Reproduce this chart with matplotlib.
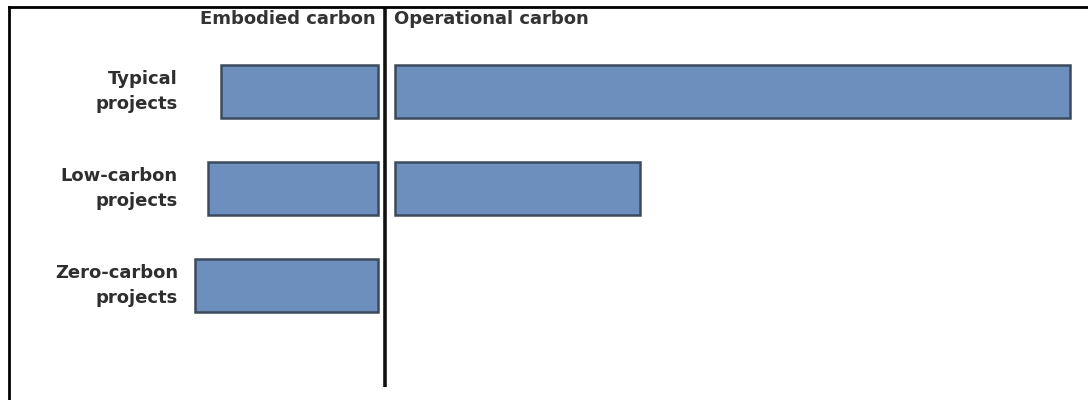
import matplotlib.pyplot as plt
from matplotlib.lines import Line2D

plt.rcParams['font.family'] = ['DejaVu Sans']

# 数据
categories = ['Typical\nprojects', 'Low-carbon\nprojects', 'Zero-carbon\nprojects']
embodied = [157, 170, 183]
operational = [675, 245, 0]

fig = plt.figure(figsize=(10.88, 4.0), dpi=100)
ax = fig.add_axes([0, 0, 1, 1])
ax.set_xlim(0, 1088)
# y轴：类别索引，0在上
ax.set_ylim(3.18, -0.943)
ax.axis('off')

face = '#6d8fbd'
edge = '#3b4b5c'
ypos = list(range(len(categories)))

# 左侧 embodied 条形（向左延伸）
ax.barh(ypos, [-v for v in embodied], left=378, height=0.55,
        color=face, edgecolor=edge, linewidth=1.8)
# 右侧 operational 条形（值为0的不画）
op_y = [y for y, v in zip(ypos, operational) if v > 0]
op_v = [v for v in operational if v > 0]
ax.barh(op_y, op_v, left=395, height=0.55,
        color=face, edgecolor=edge, linewidth=1.8)

# 中间竖线
ax.plot([385, 385], [-0.87, 3.05], color='#111111', lw=2.6, solid_capstyle='butt')

# 类别标签
for y, lab in zip(ypos, categories):
    ax.text(178, y, lab, ha='right', va='center', fontsize=13, fontweight='bold',
            color='#2e2e2e', linespacing=1.45)

# 标题
ax.text(376, -0.75, 'Embodied carbon', ha='right', va='center', fontsize=13,
        fontweight='bold', color='#333333')
ax.text(394, -0.75, 'Operational carbon', ha='left', va='center', fontsize=13,
        fontweight='bold', color='#333333')

# 外框（上、左）
fig.add_artist(Line2D([9 / 1088, 1], [1 - 7 / 400, 1 - 7 / 400], color='black', lw=2))
fig.add_artist(Line2D([9 / 1088, 9 / 1088], [0, 1 - 7 / 400], color='black', lw=2))

fig.savefig('out.png', dpi=100, facecolor='white')
